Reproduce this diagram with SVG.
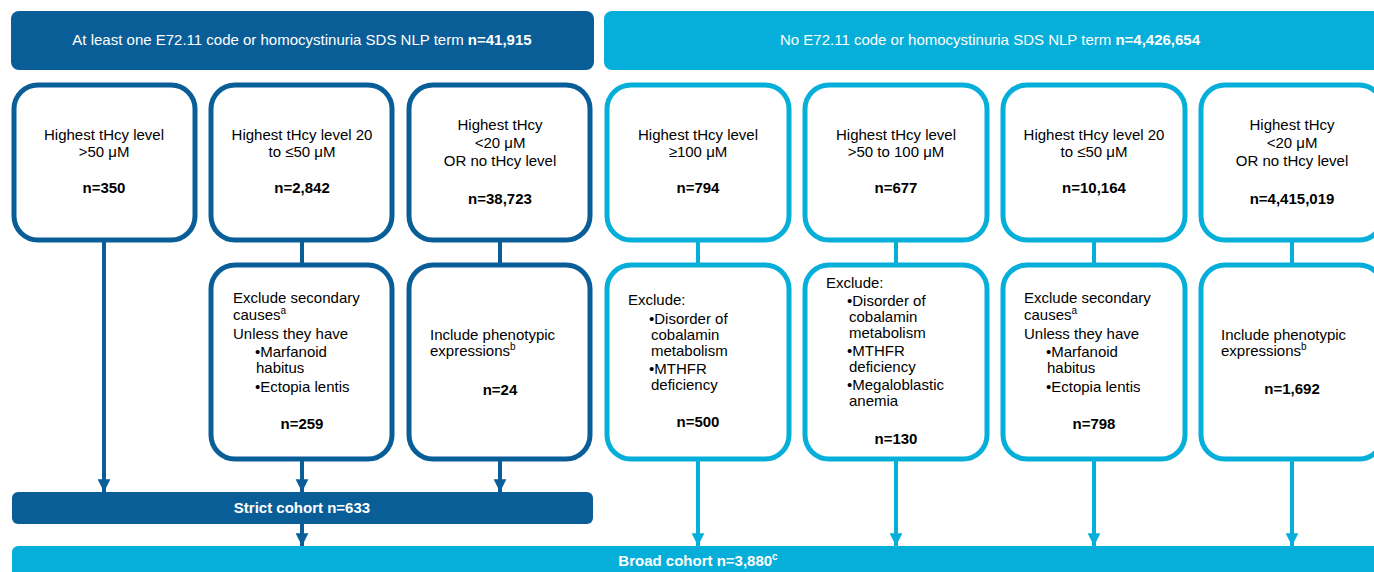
<svg xmlns="http://www.w3.org/2000/svg" width="1374" height="572" viewBox="0 0 1374 572">
<defs>
<style>
.t{font-family:"Liberation Sans",Arial,sans-serif;font-size:15px;fill:#000}
.c{text-anchor:middle}
.b{font-weight:bold}
.w{fill:#fff}
.dk{fill:none;stroke:#0a5e98;stroke-width:5}
.lt{fill:none;stroke:#06afd9;stroke-width:5}
.bx{fill:#fff}
.ld{stroke:#0a5e98;stroke-width:4;fill:none}
.ll{stroke:#06afd9;stroke-width:4;fill:none}
.sup{font-size:10px}
</style>
<marker id="ad" viewBox="0 0 10 10" refX="10" refY="5" markerWidth="3.2" markerHeight="3.6" orient="auto" markerUnits="strokeWidth"><path d="M0,0L10,5L0,10z" fill="#0a5e98"/></marker>
<marker id="al" viewBox="0 0 10 10" refX="10" refY="5" markerWidth="3.2" markerHeight="3.6" orient="auto" markerUnits="strokeWidth"><path d="M0,0L10,5L0,10z" fill="#06afd9"/></marker>
</defs>
<rect width="1374" height="572" fill="#fff"/>

<g id="connectors">
<line class="ld" x1="104" y1="241" x2="104" y2="492" marker-end="url(#ad)"/>
<line class="ld" x1="302" y1="241" x2="302" y2="263"/>
<line class="ld" x1="500" y1="241" x2="500" y2="263"/>
<line class="ld" x1="302" y1="460" x2="302" y2="492" marker-end="url(#ad)"/>
<line class="ld" x1="500" y1="460" x2="500" y2="492" marker-end="url(#ad)"/>
<line class="ld" x1="302" y1="524" x2="302" y2="546" marker-end="url(#ad)"/>
<line class="ll" x1="698" y1="241" x2="698" y2="263"/>
<line class="ll" x1="896" y1="241" x2="896" y2="263"/>
<line class="ll" x1="1094" y1="241" x2="1094" y2="263"/>
<line class="ll" x1="1292" y1="241" x2="1292" y2="263"/>
<line class="ll" x1="698" y1="460" x2="698" y2="546" marker-end="url(#al)"/>
<line class="ll" x1="896" y1="460" x2="896" y2="546" marker-end="url(#al)"/>
<line class="ll" x1="1094" y1="460" x2="1094" y2="546" marker-end="url(#al)"/>
<line class="ll" x1="1292" y1="460" x2="1292" y2="546" marker-end="url(#al)"/>
</g>

<g id="header-left">
<rect x="11" y="11" width="583" height="59" rx="8" fill="#0a5e98"/>
<text class="t c w" x="302" y="45">At least one E72.11 code or homocystinuria SDS NLP term <tspan class="b">n=41,915</tspan></text>
</g>
<g id="header-right">
<rect x="604" y="11" width="790" height="59" rx="8" fill="#06afd9"/>
<text class="t c w" x="990" y="45">No E72.11 code or homocystinuria SDS NLP term <tspan class="b">n=4,426,654</tspan></text>
</g>

<g id="l1">
<rect class="dk bx" x="14" y="85" width="181" height="155" rx="24"/>
<text class="t c" x="104" y="140">Highest tHcy level</text>
<text class="t c" x="104" y="157">&gt;50 μM</text>
<text class="t c b" x="104" y="193">n=350</text>
</g>
<g id="l2">
<rect class="dk bx" x="211" y="85" width="181" height="155" rx="24"/>
<text class="t c" x="302" y="140">Highest tHcy level 20</text>
<text class="t c" x="302" y="157">to ≤50 μM</text>
<text class="t c b" x="302" y="193">n=2,842</text>
</g>
<g id="l3">
<rect class="dk bx" x="409" y="85" width="181" height="155" rx="24"/>
<text class="t c" x="500" y="130">Highest tHcy</text>
<text class="t c" x="500" y="148">&lt;20 μM</text>
<text class="t c" x="500" y="166">OR no tHcy level</text>
<text class="t c b" x="500" y="204">n=38,723</text>
</g>

<g id="l2b">
<rect class="dk bx" x="211" y="265" width="181" height="194" rx="24"/>
<text class="t" x="233" y="303">Exclude secondary</text>
<text class="t" x="233" y="320">causes<tspan class="sup" dy="-6">a</tspan></text>
<text class="t" x="233" y="339">Unless they have</text>
<text class="t" x="255" y="357">•Marfanoid</text>
<text class="t" x="256" y="373">habitus</text>
<text class="t" x="255" y="392">•Ectopia lentis</text>
<text class="t c b" x="302" y="429">n=259</text>
</g>
<g id="l3b">
<rect class="dk bx" x="409" y="265" width="181" height="194" rx="24"/>
<text class="t" x="430" y="340">Include phenotypic</text>
<text class="t" x="430" y="356">expressions<tspan class="sup" dy="-6">b</tspan></text>
<text class="t c b" x="500" y="395">n=24</text>
</g>

<g id="r1">
<rect class="lt bx" x="607" y="85" width="182" height="155" rx="24"/>
<text class="t c" x="698" y="140">Highest tHcy level</text>
<text class="t c" x="698" y="157">≥100 μM</text>
<text class="t c b" x="698" y="193">n=794</text>
</g>
<g id="r2">
<rect class="lt bx" x="805" y="85" width="182" height="155" rx="24"/>
<text class="t c" x="896" y="140">Highest tHcy level</text>
<text class="t c" x="896" y="157">&gt;50 to 100 μM</text>
<text class="t c b" x="896" y="193">n=677</text>
</g>
<g id="r3">
<rect class="lt bx" x="1003" y="85" width="182" height="155" rx="24"/>
<text class="t c" x="1094" y="140">Highest tHcy level 20</text>
<text class="t c" x="1094" y="157">to ≤50 μM</text>
<text class="t c b" x="1094" y="193">n=10,164</text>
</g>
<g id="r4">
<rect class="lt bx" x="1201" y="85" width="182" height="155" rx="24"/>
<text class="t c" x="1292" y="130">Highest tHcy</text>
<text class="t c" x="1292" y="148">&lt;20 μM</text>
<text class="t c" x="1292" y="166">OR no tHcy level</text>
<text class="t c b" x="1292" y="204">n=4,415,019</text>
</g>

<g id="r1b">
<rect class="lt bx" x="607" y="265" width="182" height="194" rx="24"/>
<text class="t" x="628" y="305">Exclude:</text>
<text class="t" x="649" y="324">•Disorder of</text>
<text class="t" x="651" y="340">cobalamin</text>
<text class="t" x="651" y="356">metabolism</text>
<text class="t" x="649" y="374">•MTHFR</text>
<text class="t" x="651" y="390">deficiency</text>
<text class="t c b" x="698" y="427">n=500</text>
</g>
<g id="r2b">
<rect class="lt bx" x="805" y="265" width="182" height="194" rx="24"/>
<text class="t" x="826" y="288">Exclude:</text>
<text class="t" x="847" y="306">•Disorder of</text>
<text class="t" x="849" y="322">cobalamin</text>
<text class="t" x="849" y="338">metabolism</text>
<text class="t" x="847" y="356">•MTHFR</text>
<text class="t" x="849" y="372">deficiency</text>
<text class="t" x="847" y="390">•Megaloblastic</text>
<text class="t" x="849" y="406">anemia</text>
<text class="t c b" x="896" y="444">n=130</text>
</g>
<g id="r3b">
<rect class="lt bx" x="1003" y="265" width="182" height="194" rx="24"/>
<text class="t" x="1024" y="303">Exclude secondary</text>
<text class="t" x="1024" y="320">causes<tspan class="sup" dy="-6">a</tspan></text>
<text class="t" x="1024" y="339">Unless they have</text>
<text class="t" x="1046" y="357">•Marfanoid</text>
<text class="t" x="1047" y="373">habitus</text>
<text class="t" x="1046" y="392">•Ectopia lentis</text>
<text class="t c b" x="1094" y="429">n=798</text>
</g>
<g id="r4b">
<rect class="lt bx" x="1201" y="265" width="182" height="194" rx="24"/>
<text class="t" x="1221" y="340">Include phenotypic</text>
<text class="t" x="1221" y="356">expressions<tspan class="sup" dy="-6">b</tspan></text>
<text class="t c b" x="1292" y="394">n=1,692</text>
</g>

<g id="strict">
<rect x="12" y="492" width="581" height="32" rx="6" fill="#0a5e98"/>
<text class="t c b w" x="302" y="513">Strict cohort n=633</text>
</g>
<g id="broad">
<rect x="12" y="546" width="1380" height="40" rx="6" fill="#06afd9"/>
<text class="t c b w" x="698" y="566">Broad cohort n=3,880<tspan class="sup" dy="-6">c</tspan></text>
</g>
</svg>
